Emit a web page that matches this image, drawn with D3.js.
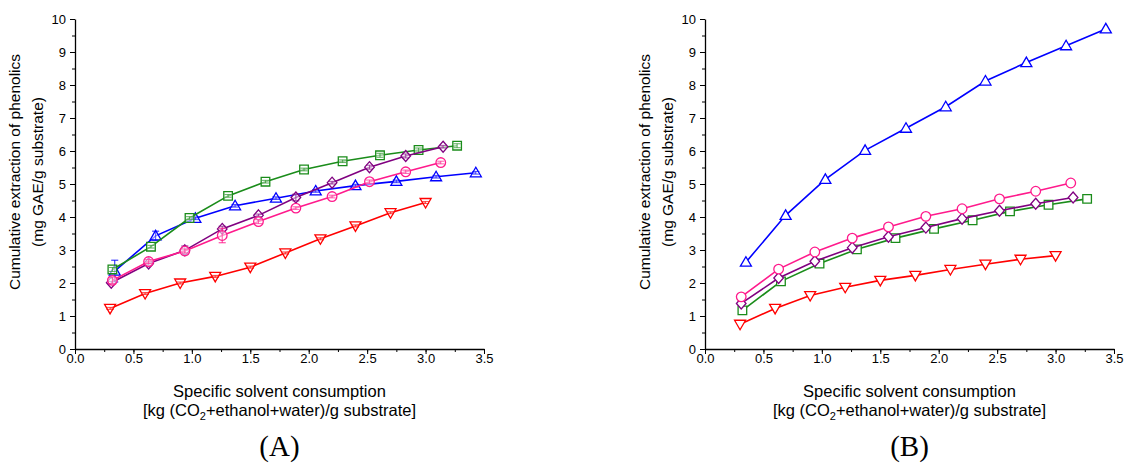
<!DOCTYPE html>
<html>
<head>
<meta charset="utf-8">
<script src="https://cdn.jsdelivr.net/npm/d3@7"></script>
<style>
  html, body { margin: 0; padding: 0; background: #fff; }
  svg { display: block; }
  text { font-family: "Liberation Sans", Arial, sans-serif; fill: #000; }
</style>
</head>
<body>
<svg id="chart" width="1126" height="468"></svg>
<script>
// ---- Panel A data ----
const aRedX    = [0.30, 0.60, 0.90, 1.20, 1.50, 1.80, 2.10, 2.40, 2.70, 3.00];
const aRedY    = [1.23, 1.68, 2.00, 2.20, 2.48, 2.91, 3.34, 3.73, 4.13, 4.44];
const aRedE    = [0.03, 0.03, 0.03, 0.03, 0.03, 0.03, 0.03, 0.03, 0.03, 0.03];

const aGreenX  = [0.32, 0.65, 0.98, 1.31, 1.63, 1.96, 2.29, 2.61, 2.94, 3.27];
const aGreenY  = [2.41, 3.10, 3.97, 4.64, 5.07, 5.44, 5.69, 5.87, 6.03, 6.16];
const aGreenE  = [0.06, 0.04, 0.04, 0.04, 0.04, 0.04, 0.04, 0.06, 0.06, 0.06];

const aBlueX   = [0.34, 0.69, 1.03, 1.37, 1.72, 2.06, 2.40, 2.75, 3.09, 3.43];
const aBlueY   = [2.36, 3.43, 3.96, 4.34, 4.57, 4.79, 4.95, 5.08, 5.22, 5.34];
const aBlueE   = [0.33, 0.14, 0.04, 0.04, 0.04, 0.04, 0.04, 0.04, 0.04, 0.04];

const aPurpleX = [0.31, 0.63, 0.94, 1.26, 1.57, 1.89, 2.20, 2.52, 2.83, 3.15];
const aPurpleY = [2.01, 2.59, 2.99, 3.64, 4.05, 4.59, 5.04, 5.51, 5.85, 6.13];
const aPurpleE = [0.04, 0.05, 0.13, 0.08, 0.04, 0.10, 0.04, 0.06, 0.06, 0.04];

const aPinkX   = [0.32, 0.63, 0.94, 1.26, 1.57, 1.89, 2.20, 2.52, 2.83, 3.13];
const aPinkY   = [2.08, 2.65, 2.97, 3.44, 3.86, 4.27, 4.62, 5.07, 5.37, 5.65];
const aPinkE   = [0.10, 0.06, 0.06, 0.22, 0.06, 0.04, 0.04, 0.05, 0.05, 0.04];

// ---- Panel B data ----
const bRedX    = [0.30, 0.60, 0.90, 1.20, 1.50, 1.80, 2.10, 2.40, 2.70, 3.00];
const bRedY    = [0.75, 1.23, 1.62, 1.87, 2.08, 2.23, 2.41, 2.57, 2.72, 2.83];

const bGreenX  = [0.32, 0.65, 0.98, 1.30, 1.63, 1.96, 2.29, 2.61, 2.94, 3.27];
const bGreenY  = [1.17, 2.05, 2.59, 3.02, 3.36, 3.64, 3.90, 4.17, 4.37, 4.55];

const bBlueX   = [0.35, 0.69, 1.03, 1.37, 1.72, 2.06, 2.40, 2.75, 3.09, 3.43];
const bBlueY   = [2.63, 4.05, 5.14, 6.02, 6.69, 7.34, 8.12, 8.68, 9.19, 9.70];

const bPurpleX = [0.31, 0.63, 0.94, 1.26, 1.57, 1.89, 2.20, 2.52, 2.83, 3.15];
const bPurpleY = [1.38, 2.15, 2.66, 3.07, 3.40, 3.68, 3.95, 4.19, 4.40, 4.59];

const bPinkX   = [0.31, 0.63, 0.94, 1.26, 1.57, 1.89, 2.20, 2.52, 2.83, 3.13];
const bPinkY   = [1.58, 2.42, 2.94, 3.36, 3.70, 4.02, 4.25, 4.55, 4.78, 5.03];

// ---- Axis ticks and labels ----
const xTicks = [0.0, 0.5, 1.0, 1.5, 2.0, 2.5, 3.0, 3.5];
const yTicks = [0, 1, 2, 3, 4, 5, 6, 7, 8, 9, 10];
const yTitle = ["Cumulative extraction of phenolics", "(mg GAE/g substrate)"];
const xTitle1 = "Specific solvent consumption";
const panelLabels = ["(A)", "(B)"];

// ---- Styling ----
const COLORS = { red: "#ff0000", green: "#1a8c1a", blue: "#0000ff", purple: "#800080", pink: "#ff1a8c" };

// marker path generators (pixel geometry)
const markerPath = {
  down:    () => "M-5.5,-4 L5.5,-4 L0,5.5 Z",
  up:      () => "M-5.5,4 L5.5,4 L0,-5.5 Z",
  square:  () => "M-4.3,-4.3 H4.3 V4.3 H-4.3 Z",
  diamond: () => "M0,-5.5 L4.8,0 L0,5.5 L-4.8,0 Z",
  circle:  () => "M-4.8,0 A4.8,4.8 0 1,0 4.8,0 A4.8,4.8 0 1,0 -4.8,0 Z"
};

const panels = [
  {
    left: 75, label: panelLabels[0],
    series: [
      { x: aRedX, y: aRedY, e: aRedE, color: COLORS.red, marker: "down" },
      { x: aBlueX, y: aBlueY, e: aBlueE, color: COLORS.blue, marker: "up" },
      { x: aGreenX, y: aGreenY, e: aGreenE, color: COLORS.green, marker: "square" },
      { x: aPurpleX, y: aPurpleY, e: aPurpleE, color: COLORS.purple, marker: "diamond" },
      { x: aPinkX, y: aPinkY, e: aPinkE, color: COLORS.pink, marker: "circle" }
    ]
  },
  {
    left: 705, label: panelLabels[1],
    series: [
      { x: bRedX, y: bRedY, color: COLORS.red, marker: "down" },
      { x: bBlueX, y: bBlueY, color: COLORS.blue, marker: "up" },
      { x: bGreenX, y: bGreenY, color: COLORS.green, marker: "square" },
      { x: bPurpleX, y: bPurpleY, color: COLORS.purple, marker: "diamond" },
      { x: bPinkX, y: bPinkY, color: COLORS.pink, marker: "circle" }
    ]
  }
];

const svg = d3.select("#chart");
const plotW = 409, plotTop = 19, plotBottom = 349;

function drawErrorBars(parent, pts, x, y, color) {
  const eb = parent.append("g").attr("stroke", color).attr("stroke-opacity", 0.55).attr("stroke-width", 1);
  pts.forEach(d => {
    const y0 = y(d.y - d.e), y1 = y(d.y + d.e), cx = x(d.x);
    eb.append("line").attr("x1", cx).attr("x2", cx).attr("y1", y0).attr("y2", y1);
    eb.append("line").attr("x1", cx - 3.5).attr("x2", cx + 3.5).attr("y1", y0).attr("y2", y0);
    eb.append("line").attr("x1", cx - 3.5).attr("x2", cx + 3.5).attr("y1", y1).attr("y2", y1);
  });
}

panels.forEach(p => {
  const g = svg.append("g").attr("transform", `translate(${p.left},0)`);
  const x = d3.scaleLinear().domain([0, 3.5]).range([0, plotW]);
  const y = d3.scaleLinear().domain([0, 10]).range([plotBottom, plotTop]);

  // minor ticks
  const xMinor = d3.range(0, 3.5001, 0.25);
  const yMinor = d3.range(0, 10.001, 0.5);
  g.append("g").attr("transform", `translate(0,${plotBottom})`)
    .call(d3.axisBottom(x).tickValues(xMinor).tickSize(3).tickFormat(""))
    .call(a => a.select(".domain").remove())
    .selectAll("line").attr("stroke", "#000").attr("stroke-width", 1);
  g.append("g")
    .call(d3.axisLeft(y).tickValues(yMinor).tickSize(3).tickFormat(""))
    .call(a => a.select(".domain").remove())
    .selectAll("line").attr("stroke", "#000").attr("stroke-width", 1);

  // major axes
  const xa = g.append("g").attr("transform", `translate(0,${plotBottom})`)
    .call(d3.axisBottom(x).tickValues(xTicks).tickSize(5).tickSizeOuter(0).tickPadding(0).tickFormat(d3.format(".1f")));
  const ya = g.append("g")
    .call(d3.axisLeft(y).tickValues(yTicks).tickSize(5).tickSizeOuter(0).tickPadding(4).tickFormat(d3.format("d")));
  [xa, ya].forEach(a => {
    a.select(".domain").attr("stroke", "#000").attr("stroke-width", 1.3);
    a.selectAll("line").attr("stroke", "#000").attr("stroke-width", 1);
    a.selectAll("text").style("font-family", "'Liberation Sans', Arial, sans-serif")
      .style("font-size", "13px").attr("fill", "#000");
  });

  // series
  p.series.forEach(s => {
    const pts = s.x.map((v, i) => ({ x: v, y: s.y[i], e: s.e ? s.e[i] : 0 }));
    const sg = g.append("g");

    if (s.e) drawErrorBars(sg, pts, x, y, s.color);

    sg.append("path").datum(pts)
      .attr("fill", "none").attr("stroke", s.color).attr("stroke-width", 1.6)
      .attr("d", d3.line().x(d => x(d.x)).y(d => y(d.y)));

    sg.selectAll("path.mk").data(pts).join("path").attr("class", "mk")
      .attr("transform", d => `translate(${x(d.x)},${y(d.y)})`)
      .attr("d", markerPath[s.marker]())
      .attr("fill", "#fff").attr("fill-opacity", s.e ? 0.55 : 1)
      .attr("stroke", s.color).attr("stroke-width", 1.3);

    // error marks also shown through the translucent markers
    if (s.e) drawErrorBars(sg, pts, x, y, s.color);
  });

  // y-axis title (two lines, rotated)
  const yt = g.append("text")
    .attr("transform", "translate(-55,172) rotate(-90)")
    .attr("text-anchor", "middle")
    .style("font-size", "15.5px");
  yt.append("tspan").attr("x", 0).attr("y", 0).text(yTitle[0]);
  yt.append("tspan").attr("x", 0).attr("y", 23).text(yTitle[1]);

  // x-axis title
  const cx = plotW / 2;
  g.append("text").attr("x", cx).attr("y", 397).attr("text-anchor", "middle")
    .style("font-size", "16.5px").text(xTitle1);
  const t2 = g.append("text").attr("x", cx).attr("y", 416).attr("text-anchor", "middle")
    .style("font-size", "16.5px");
  t2.append("tspan").text("[kg (CO");
  t2.append("tspan").attr("dy", 4).style("font-size", "11px").text("2");
  t2.append("tspan").attr("dy", -4).text("+ethanol+water)/g substrate]");

  // panel label
  g.append("text").attr("x", cx).attr("y", 456).attr("text-anchor", "middle")
    .style("font-family", "'Liberation Serif', 'DejaVu Serif', serif")
    .style("font-size", "29px").text(p.label);
});
</script>
</body>
</html>
